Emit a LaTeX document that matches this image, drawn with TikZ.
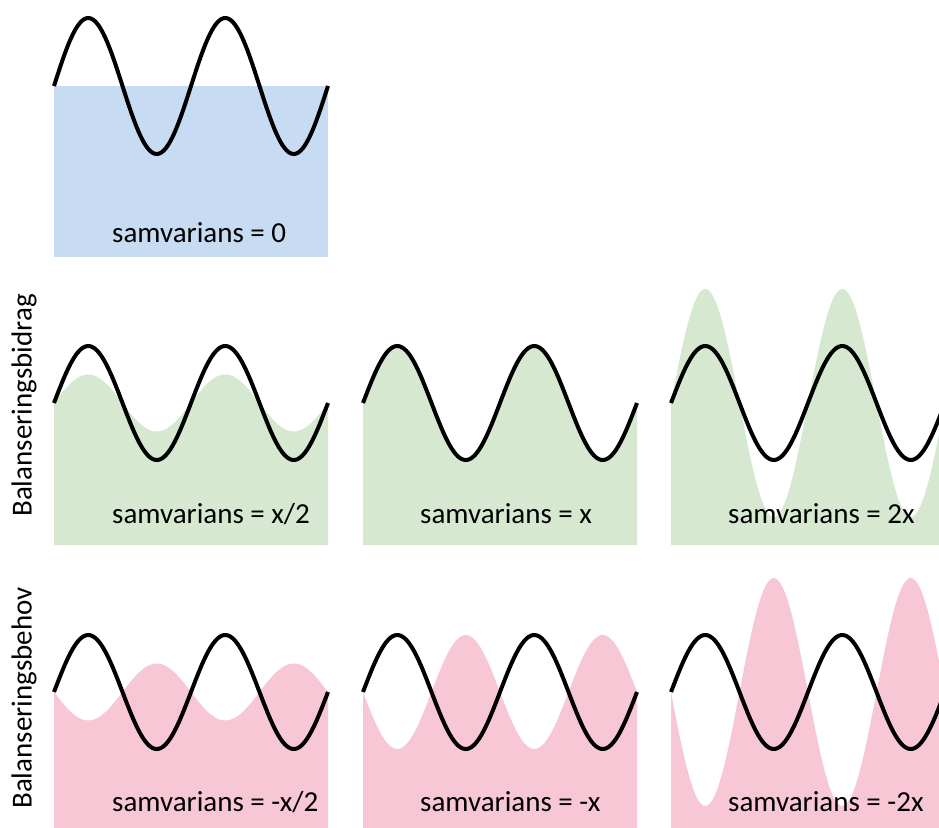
\documentclass[tikz,border=0pt]{standalone}
\usepackage{fontspec}
\setmainfont{Carlito}
\definecolor{fblue}{HTML}{C7DBF3}
\definecolor{fgreen}{HTML}{D6E9D0}
\definecolor{fpink}{HTML}{F7C7D6}
\newcommand{\wavefill}[5]{% x0, mid, bottom, amplitude, colour
  \fill[#5] (#1,#3) -- plot[domain=0:274,samples=140] ({#1+\x},{#2-(#4)*sin(\x/137*360)}) -- ({#1+274},#3) -- cycle;}
\newcommand{\blackwave}[3]{% x0, mid, amplitude
  \draw[wave] plot[domain=0:274,samples=140] ({#1+\x},{#2-(#3)*sin(\x/137*360)});}
\begin{document}
\begin{tikzpicture}[x=1pt,y=-1pt,
  wave/.style={line width=4pt,black},
  lbl/.style={anchor=base west,inner sep=0pt,font=\fontsize{29}{34}\selectfont},
  side/.style={rotate=90,inner sep=0pt,font=\fontsize{29}{34}\selectfont}]
\clip (0,0) rectangle (939,827);
\fill[white] (0,0) rectangle (939,827);
% row 1
\fill[fblue] (54,86) rectangle (328,257);
\blackwave{54}{86}{68}
\node[lbl] (l0) at (112,242) {samvarians = 0};
% row 2
\wavefill{54}{403}{545}{28.5}{fgreen}
\wavefill{363}{403}{545}{57}{fgreen}
\wavefill{671}{403}{545}{114}{fgreen}
\blackwave{54}{403}{57}
\blackwave{363}{403}{57}
\blackwave{671}{403}{57}
\node[lbl] (l1) at (112,523) {samvarians = x/2};
\node[lbl] (l2) at (420,523) {samvarians = x};
\node[lbl] (l3) at (728,523) {samvarians = 2x};
% row 3
\wavefill{54}{692}{840}{-28.5}{fpink}
\wavefill{363}{692}{840}{-57}{fpink}
\wavefill{671}{692}{840}{-114}{fpink}
\blackwave{54}{692}{57}
\blackwave{363}{692}{57}
\blackwave{671}{692}{57}
\node[lbl] (l4) at (112,811) {samvarians = -x/2};
\node[lbl] (l5) at (420,811) {samvarians = -x};
\node[lbl] (l6) at (728,811) {samvarians = -2x};
% side labels
\node[side] (s1) at (24,405.5) {Balanseringsbidrag};
\node[side] (s2) at (24,698) {Balanseringsbehov};
\end{tikzpicture}
\end{document}
